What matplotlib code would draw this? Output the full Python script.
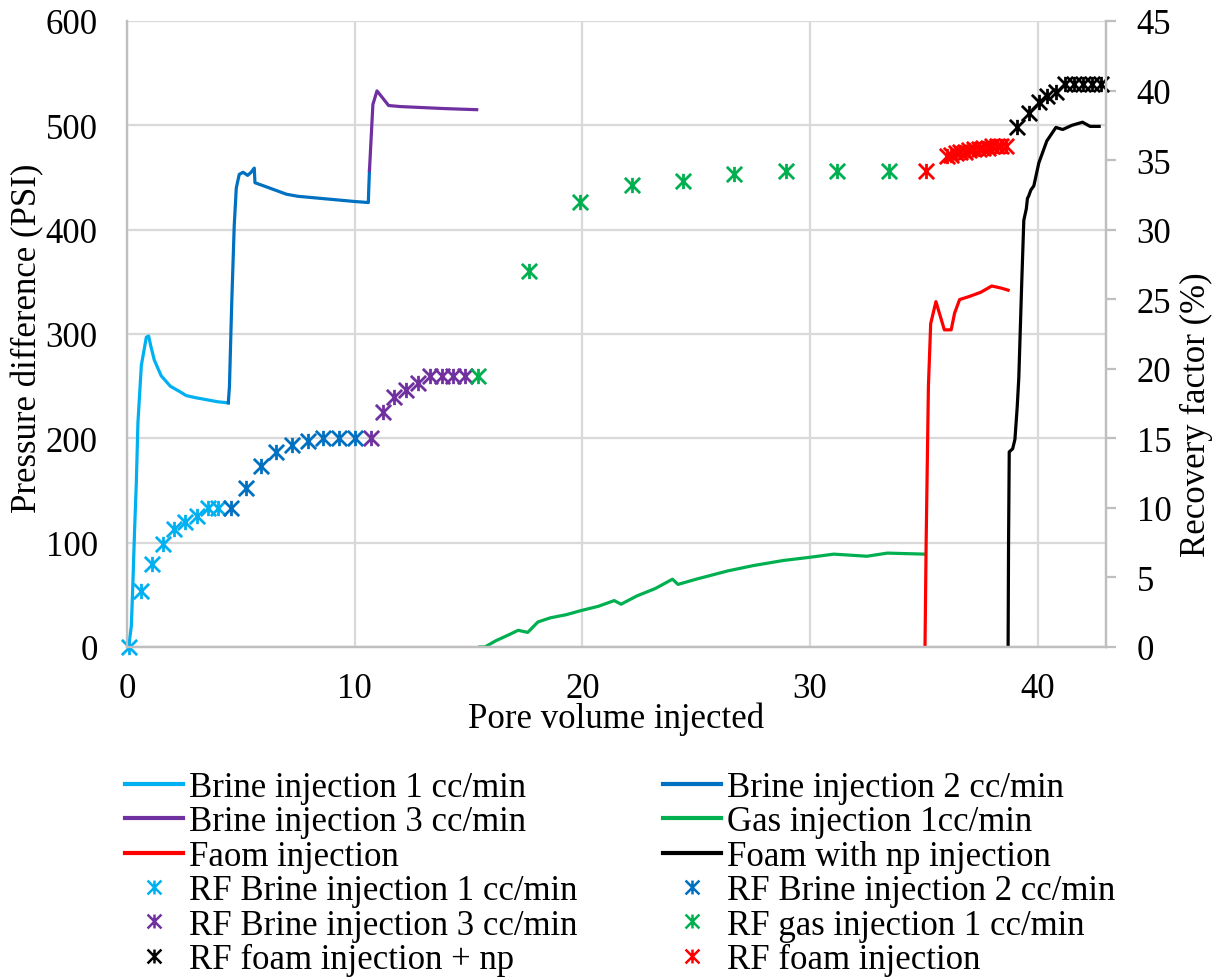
import numpy as np
import matplotlib
matplotlib.use('Agg')
import matplotlib.pyplot as plt
from matplotlib.path import Path
from matplotlib.lines import Line2D

plt.rcParams['font.family'] = ['Liberation Serif', 'DejaVu Serif']

# pressure curves (x = pore volume injected, y = PSI)
brine1_x = [0.0, 0.1, 0.19, 0.26, 0.33, 0.41, 0.48, 0.63, 0.85, 0.95, 1.05, 1.2, 1.5, 1.9, 2.3, 2.6, 3.0, 3.5, 4.0, 4.45]
brine1_y = [0, 5, 20, 62, 110, 158, 215, 270, 297, 298, 288, 275, 260, 250, 245, 241, 239, 237, 235, 234]

brine2_x = [4.45, 4.5, 4.6, 4.71, 4.8, 4.93, 5.1, 5.3, 5.45, 5.59, 5.62, 6.0, 6.5, 7.0, 7.5, 8.0, 8.5, 9.0, 9.5, 10.0, 10.6, 10.62, 10.65]
brine2_y = [234, 250, 330, 404, 440, 453, 455, 452, 455, 459, 445, 442, 438, 434, 432, 431, 430, 429, 428, 427, 426, 440, 457]

brine3_x = [10.65, 10.8, 10.98, 11.2, 11.49, 12.0, 13.0, 14.0, 15.36]
brine3_y = [457, 520, 533, 527, 519, 518, 517, 516, 515]

gas_x = [15.5, 15.72, 16.2, 16.8, 17.18, 17.6, 18.05, 18.6, 19.3, 19.96, 20.7, 21.4, 21.7, 22.4, 23.2,
         23.96, 24.2, 25.0, 25.7, 26.4, 27.5, 28.85, 30.0, 31.04, 32.5, 33.4, 35.05]
gas_y = [0, 0, 6, 12, 16, 14, 24, 28, 31, 35, 39, 44.5, 41, 49, 56, 65, 60, 65, 69, 73, 78, 83, 86, 89, 87, 90, 89]

foam_x = [35.05, 35.1, 35.2, 35.3, 35.53, 35.75, 35.9, 36.2, 36.35, 36.57, 37.0, 37.5, 37.98, 38.4, 38.7]
foam_y = [0, 100, 250, 310, 331, 315, 304, 304, 320, 333, 336, 340, 346, 344, 342]

foamnp_x = [38.7, 38.72, 38.75, 38.9, 39.0, 39.1, 39.17, 39.3, 39.39, 39.5, 39.55, 39.6, 39.7, 39.83, 40.05,
            40.4, 40.8, 41.1, 41.5, 41.97, 42.3, 42.7]
foamnp_y = [0, 100, 187, 190, 199, 230, 258, 350, 409, 420, 430, 432, 438, 442, 464, 485, 498, 496, 500, 503, 499, 499]

# recovery factor points (%)
rf_b1_x = [0.1, 0.63, 1.1, 1.58, 2.08, 2.56, 3.06, 3.54, 3.98]
rf_b1_y = [0, 4.0, 6.0, 7.4, 8.5, 9.0, 9.45, 10.0, 10.0]
rf_b2_x = [4.57, 5.22, 5.9, 6.56, 7.26, 7.95, 8.6, 9.3, 10.0]
rf_b2_y = [10.0, 11.4, 13.0, 14.0, 14.5, 14.8, 15.0, 15.0, 15.0]
rf_b3_x = [10.7, 11.23, 11.71, 12.25, 12.78, 13.3, 13.83, 14.34, 14.85]
rf_b3_y = [15.0, 16.9, 18.0, 18.5, 19.0, 19.5, 19.5, 19.5, 19.5]
rf_gas_x = [15.4, 17.65, 19.89, 22.2, 24.43, 26.67, 28.96, 31.19, 33.45]
rf_gas_y = [19.5, 27.0, 32.0, 33.2, 33.5, 34.0, 34.2, 34.2, 34.2]
rf_foam_x = [35.1, 36.0, 36.2, 36.4, 36.6, 36.8, 37.0, 37.2, 37.4, 37.6, 37.8, 38.0, 38.2, 38.4, 38.6]
rf_foam_y = [34.2, 35.3, 35.4, 35.5, 35.6, 35.6, 35.7, 35.8, 35.8, 35.9, 35.9, 36.0, 36.0, 36.0, 36.0]
rf_np_x = [39.1, 39.6, 40.05, 40.43, 40.8, 41.2, 41.6, 42.0, 42.4, 42.8]
rf_np_y = [37.4, 38.4, 39.2, 39.6, 39.9, 40.5, 40.5, 40.5, 40.5, 40.5]

c_b1 = '#00B0F0'
c_b2 = '#0070C0'
c_b3 = '#7030A0'
c_gas = '#00B050'
c_foam = '#FF0000'
c_np = '#000000'
grid_c = '#D9D9D9'

# excel style star marker: X with a vertical bar
star = Path([(-1, -1), (1, 1), (-1, 1), (1, -1), (0, -1), (0, 1)],
            [Path.MOVETO, Path.LINETO] * 3)

W, H = 1218, 978
fig = plt.figure(figsize=(W / 100, H / 100), dpi=100)
ax = fig.add_axes([127 / W, 1 - 648 / H, (1106 - 127) / W, (648 - 22) / H])
ax2 = ax.twinx()

lw = 2.3
ax.plot(brine1_x, brine1_y, color=c_b1, lw=lw)
ax.plot(brine2_x, brine2_y, color=c_b2, lw=lw)
ax.plot(brine3_x, brine3_y, color=c_b3, lw=lw)
ax.plot(gas_x, gas_y, color=c_gas, lw=lw)
ax.plot(foam_x, foam_y, color=c_foam, lw=lw)
ax.plot(foamnp_x, foamnp_y, color=c_np, lw=lw)

ms = 11
mew = 2.0
for xs, ys, c in [(rf_b1_x, rf_b1_y, c_b1), (rf_b2_x, rf_b2_y, c_b2), (rf_b3_x, rf_b3_y, c_b3),
                  (rf_gas_x, rf_gas_y, c_gas), (rf_foam_x, rf_foam_y, c_foam), (rf_np_x, rf_np_y, c_np)]:
    ax2.plot(xs, ys, ls='none', marker=star, ms=ms, mew=mew, color=c, clip_on=False)

ax.set_xlim(0, 43)
ax.set_ylim(0, 600)
ax2.set_ylim(0, 45)
ax.set_xticks([0, 10, 20, 30, 40])
ax.set_yticks(np.arange(0, 601, 100))
ax2.set_yticks(np.arange(0, 46, 5))

ax.grid(True, color=grid_c, lw=1.6)
ax.set_axisbelow(True)
ax2.set_zorder(ax.get_zorder() + 1)
ax2.patch.set_visible(False)

for a in (ax, ax2):
    a.spines['top'].set_visible(False)
    for s in ('left', 'right', 'bottom'):
        a.spines[s].set_color('#BFBFBF')
        a.spines[s].set_linewidth(1.6)
ax.spines['left'].set_color(grid_c)

fs = 25
ax.tick_params(axis='x', length=0, pad=18, labelsize=fs)
ax.tick_params(axis='y', length=0, pad=21, labelsize=fs)
ax2.tick_params(axis='y', length=7, width=1.6, color='#BFBFBF', pad=15, labelsize=fs)

fig.text(616 / W, 1 - 719 / H, 'Pore volume injected', fontsize=fs, ha='center', va='center')
fig.text(28 / W, 1 - 338 / H, 'Pressure difference (PSI)', fontsize=fs, ha='center', va='center',
         rotation=90)
fig.text(1196 / W, 1 - 415 / H, 'Recovery factor (%)', fontsize=fs, ha='center', va='center',
         rotation=90)

def lh(c):
    return Line2D([], [], color=c, lw=3)

def mh(c):
    return Line2D([], [], ls='none', marker=star, ms=10, mew=1.8, color=c)

handles = [lh(c_b1), lh(c_b3), lh(c_foam), mh(c_b1), mh(c_b3), mh(c_np),
           lh(c_b2), lh(c_gas), lh(c_np), mh(c_b2), mh(c_gas), mh(c_foam)]
labels = ['Brine injection 1 cc/min', 'Brine injection 3 cc/min', 'Faom injection',
          'RF Brine injection 1 cc/min', 'RF Brine injection 3 cc/min', 'RF foam injection + np',
          'Brine injection 2 cc/min', 'Gas injection 1cc/min', 'Foam with np injection',
          'RF Brine injection 2 cc/min', 'RF gas injection 1 cc/min', 'RF foam injection']
fig.legend(handles, labels, ncol=2, loc='upper left', bbox_to_anchor=(125 / W, 1 - 772 / H),
           frameon=False, fontsize=fs, borderaxespad=0, borderpad=0, handlelength=1.67,
           handletextpad=0.17, labelspacing=0.04, columnspacing=2.47)

fig.savefig('out.png', dpi=100)
